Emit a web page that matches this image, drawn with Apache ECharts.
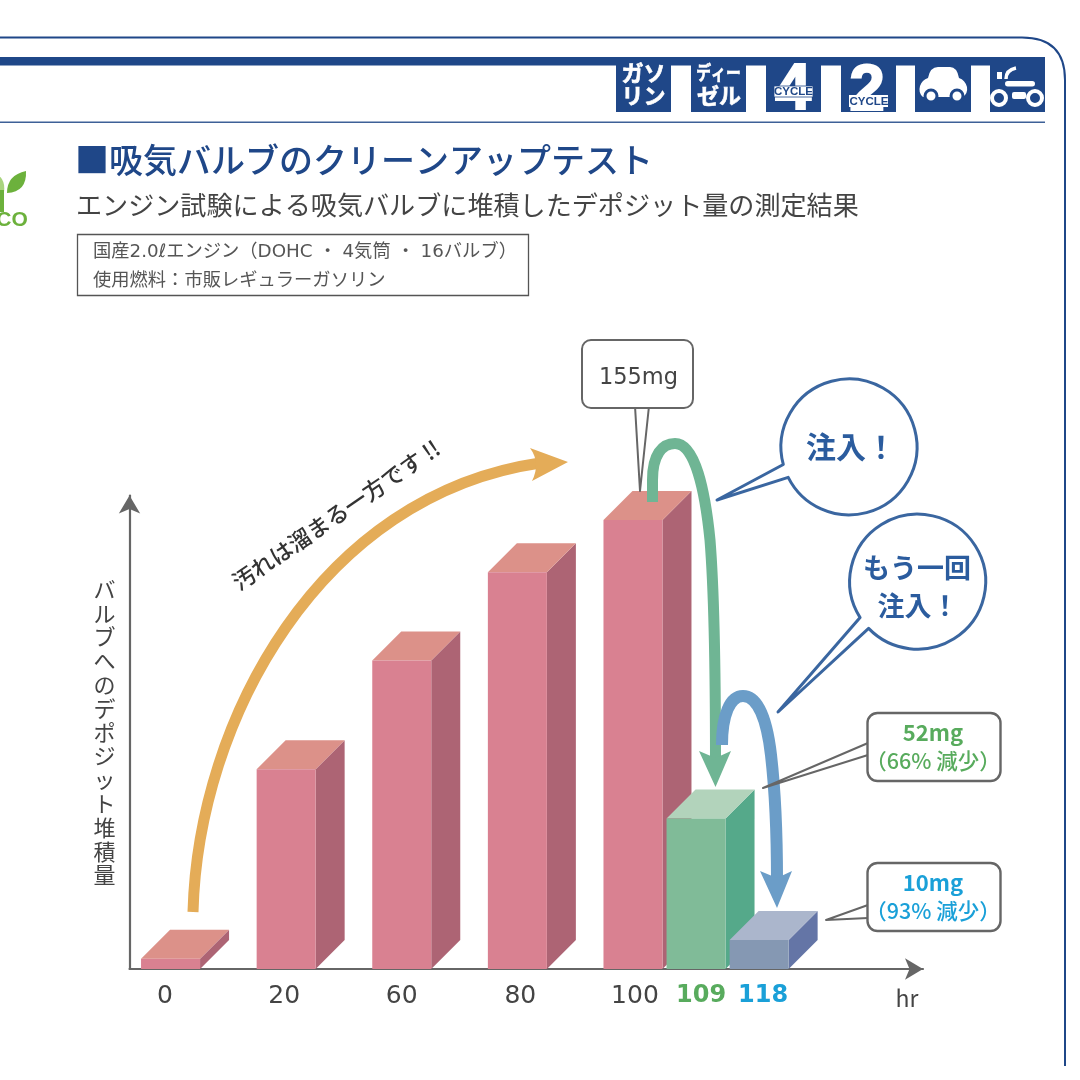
<!DOCTYPE html>
<html><head><meta charset="utf-8">
<style>html,body{margin:0;padding:0;background:#fff}#c{width:1080px;height:1080px}</style>
<script src="https://cdn.jsdelivr.net/npm/echarts@6/dist/echarts.min.js"></script>
</head><body><div id="c"></div>
<script>
// ---- data ----
const hours = ['0','20','60','80','100','109','118'];
const deposit = [3.5, 69, 106.5, 137, 155, 52, 10];       // mg
const barGroup = ['dirty','dirty','dirty','dirty','dirty','once','twice'];
const yAxisTitle = 'バルブへのデポジット堆積量';
const xAxisTitle = 'hr';
const title = '■吸気バルブのクリーンアップテスト';
const subtitle = 'エンジン試験による吸気バルブに堆積したデポジット量の測定結果';
const conditions = ['国産2.0ℓエンジン（DOHC ・ 4気筒 ・ 16バルブ）','使用燃料：市販レギュラーガソリン'];

// ---- uneven slots on the time axis ----
const leadSlots = 8, bigGap = 22, smallGap = 12, totalSlots = 152;
const cats = new Array(totalSlots).fill('');
const slotOf = [];
let s = leadSlots;
hours.forEach((h, i) => { cats[s] = h; slotOf.push(s); s += i < 4 ? bigGap : smallGap; });
const barData = hours.map((h, i) => [slotOf[i], deposit[i], i]);

const palette = {
  dirty: {front:'#d98191', top:'#dc9189', side:'#ad6474'},
  once:  {front:'#80bb98', top:'#b2d3bb', side:'#55a98a'},
  twice: {front:'#8598b3', top:'#abb6cc', side:'#6475a6'}
};
const FONT = '"Noto Sans CJK JP","Noto Sans",sans-serif';
const LATIN = '"DejaVu Sans","Noto Sans CJK JP",sans-serif';
const ARIAL = '"Liberation Sans",sans-serif';
const NAVY = '#1f4788', BUB = '#3a66a0', GREY = '#666666';

function renderBar(params, api){
  const idx = api.value(0), val = api.value(1), c = palette[barGroup[api.value(2)]];
  const top = api.coord([idx, val]), base = api.coord([idx, 0]);
  const w = 59, d = 29, l = top[0] - w/2 - 1, r = l + w, y = top[1], b = base[1];
  return {type:'group', children:[
    {type:'polygon', shape:{points:[[r,y],[r+d,y-d],[r+d,b-d],[r,b]]}, style:{fill:c.side}},
    {type:'polygon', shape:{points:[[l,y],[l+d,y-d],[r+d,y-d],[r,y]]}, style:{fill:c.top}},
    {type:'rect', shape:{x:l,y:y,width:w,height:b-y}, style:{fill:c.front}}
  ]};
}

// decoration helpers
let shapeId = 0;
const P = (d, fill, stroke, lw, z) => {
  const name = 'decoPath' + (shapeId++);
  echarts.graphic.registerShape(name, echarts.graphic.extendPath(d));
  return {type:name, z:z||10, shape:{}, style:{fill:fill||'none', stroke:stroke||'none', lineWidth:lw||0, lineJoin:'round'}, silent:true};
};
const R = (x,y,w,h,fill,stroke,lw,r,z) => ({type:'rect', z:z||10, shape:{x,y,width:w,height:h,r:r||0}, style:{fill:fill||'none',stroke:stroke||'none',lineWidth:lw||0}, silent:true});
const C = (cx,cy,r,fill,stroke,lw,z) => ({type:'circle', z:z||10, shape:{cx,cy,r}, style:{fill:fill||'none',stroke:stroke||'none',lineWidth:lw||0}, silent:true});
const T = (text,x,y,size,fill,opt) => { opt=opt||{}; return {type:'text', z:opt.z||12, x, y, rotation:opt.rot||0, scaleX:opt.sx||1, silent:true,
  style:{text, fill, stroke:opt.st||null, lineWidth:opt.sw||0, font:(opt.w||'400')+' '+size+'px '+(opt.f||FONT), textAlign:opt.a||'center', textVerticalAlign:'middle'}}; };

const deco = [
  // frame
  P('M-5 37.5 L1022 37.5 Q1065 37.5 1065 80 L1065 1066','none',NAVY,2,1),
  R(-5,57,1050,8.5,NAVY,null,0,0,1),
  R(-5,121.5,1050,1.6,'#3d6097',null,0,0,1),
  // icon tiles
  R(616,57,55,55,NAVY), R(691,57,55,55,NAVY), R(766,57,55,55,NAVY), R(841,57,55,55,NAVY), R(915,57,56,55,NAVY), R(990,57,55,55,NAVY),
  T('ガソ',643.5,73,22,'#fff',{w:'700',st:'#fff',sw:0.6}), T('リン',643.5,96,22,'#fff',{w:'700',st:'#fff',sw:0.6}),
  T('ディー',718.5,73,19,'#fff',{w:'700',sx:0.78,st:'#fff',sw:0.6}), T('ゼル',719,96,22,'#fff',{w:'700',st:'#fff',sw:0.6}),
  T('4',793,91,65,'#fff',{w:'700',f:ARIAL,st:'#fff',sw:2}),
  R(774,86,39,11,'#ffffff',NAVY,0.8,0,12),
  T('CYCLE',793.5,92,11.5,NAVY,{w:'700',f:ARIAL,z:13}),
  T('2',867,92,64,'#fff',{w:'700',f:ARIAL,st:'#fff',sw:2}),
  R(849,95,39,12,'#ffffff',null,0,0,12),
  T('CYCLE',869,101.5,11.5,NAVY,{w:'700',f:ARIAL,z:13}),
  P('M923 97 Q918 93 920 86 Q922 80 928 78 Q930 67 938 67 L950 67 Q957 67 959 78 Q965 80 967 87 Q968 93 963 97 Z','#fff',null,0,11),
  C(931,96,6,'#fff',NAVY,3,12), C(957,96,6,'#fff',NAVY,3,12),
  C(999,98,7,NAVY,'#fff',4,12), C(1035,98,7,NAVY,'#fff',4,12),
  R(1012,92,14,7,'#fff',null,0,2,12), R(1005,81,30,5.5,'#fff',null,0,3,12),
  P('M1006 79 Q1006 70 1016 68','none','#fff',3.5,12), R(997,72,5,7,'#fff',null,0,0,12),
  // eco logo
  P('M7 193 Q7 175 26 171 Q27 192 7 193 Z','#6cb13c'),
  P('M4 192 Q6 178 -6 172 L-6 190 Z','#a9d47e'),
  R(0,190,4,22,'#6cb13c'),
  T('CO',12,220,21,'#6cb13c',{w:'700',f:ARIAL}),
  // headings
  T(title,75,160,34,NAVY,{w:'500',a:'left'}),
  T(subtitle,76,205,26.1,'#444444',{a:'left'}),
  R(77.5,234.5,451,61,'#fff','#555',1.3,0,5),
  T(conditions[0],93,252,18.3,'#555555',{a:'left',f:LATIN}),
  T(conditions[1],93,279,18.3,'#555555',{a:'left'}),
  // growth arrow
  P('M193 912 C198 720 320 495 540 463','none','#e4ac58',11),
  P('M568 462 L530 448 Q541 463 532 481 Z','#e4ac58'),
  T('汚れは溜まる一方です !!',336,515,22.5,'#333333',{rot:0.6,w:'500'}),
  // 155mg callout
  P('M635 406 L640 491 L649 406','none',GREY,2),
  R(582,340,111,68,'#fff',GREY,2,9,11),
  T('155mg',638.5,378,22.5,'#444444',{f:LATIN}),
  // green injection arrow
  P('M652.5 502 L652.5 480 C652.5 455 662 443.5 675 443.5 C695 443.5 705 490 710 540 C714 590 715.5 660 715.5 762','none','#6fb594',11),
  P('M715.5 787 L699 751 L715.5 758 L731 751 Z','#6fb594'),
  // blue injection arrow
  P('M722 745 C722 715 730 696 743 696 C758 696 767 720 771 755 C775 790 777 830 777 880','none','#6b9dc8',12,11),
  P('M777 908 L760 871 L777 878 L792 871 Z','#6b9dc8',null,0,11),
  // 52mg callout
  P('M868 743 L763 788 L868 755','none',GREY,2,13),
  R(867.5,713,133,68,'#fff',GREY,2.4,10,13),
  T('52mg',933,733,22,'#58ab5d',{w:'700',z:14}),
  T('（66% 減少）',933,761,21.5,'#58ab5d',{w:'500',z:14}),
  // 10mg callout
  P('M868 905 L826 920 L868 918','none',GREY,2,13),
  R(867.5,863,133,68,'#fff',GREY,2.4,10,13),
  T('10mg',933,883,22,'#1aa0d8',{w:'700',z:14}),
  T('（93% 減少）',933,911,21.5,'#1aa0d8',{w:'500',z:14}),
  // speech bubbles
  P('M783.3 464.5 A68 68 0 1 1 788.2 477.4 L717 500 Z','#fff',BUB,3,13),
  T('注入！',851,447,30,'#2b5c9e',{w:'700',z:15}),
  P('M860.1 617.6 A68 67.5 0 1 1 868.6 628.4 L778 712 Z','#fff',BUB,3,13),
  T('もう一回',917,568,27,'#2b5c9e',{w:'700',z:15}),
  T('注入！',918,606,27,'#2b5c9e',{w:'700',z:15}),
  // x-axis unit
  T(xAxisTitle,907,998,23,'#444444')
];

// small per-label nudges (px) that match where the reference sets its tick labels
const labelNudge = {'0':-6.5,'20':-3,'60':-1,'80':2,'100':1,'109':4,'118':3};
const tickRich = {};
hours.forEach((h, i) => {
  const n = labelNudge[h] * 2, bold = i >= 5;
  tickRich['t' + h] = {
    fontFamily:LATIN, fontSize:bold ? 24 : 25, fontWeight:bold ? 700 : 400,
    color: i === 5 ? '#58ab5d' : i === 6 ? '#1aa0d8' : '#444444',
    padding: n >= 0 ? [0,0,0,n] : [0,-n,0,0]
  };
});

const chart = echarts.init(document.getElementById('c'), null, {renderer:'canvas'});
chart.setOption({
  animation:false,
  backgroundColor:'#ffffff',
  grid:{left:129.5, right:1080-923, top:495.5, bottom:1080-969, containLabel:false},
  xAxis:{
    type:'category', data:cats, boundaryGap:false,
    axisLine:{show:true, symbol:['none','arrow'], symbolSize:[16,18], lineStyle:{color:GREY, width:2.2}},
    axisTick:{show:false},
    axisLabel:{interval:0, margin:15, hideOverlap:false, fontFamily:LATIN, fontSize:25, color:'#444444',
      formatter:v => v === '' ? '' : '{t' + v + '|' + v + '}',
      rich:tickRich},
    splitLine:{show:false}
  },
  yAxis:{
    type:'value', min:0, max:163.5,
    name:yAxisTitle.split('').join('\n'), nameLocation:'middle', nameGap:14, nameRotate:0,
    nameTextStyle:{fontFamily:FONT, fontSize:22, lineHeight:23.8, color:'#444444', padding:[0,0,8,0]},
    axisLine:{show:true, symbol:['none','arrow'], symbolSize:[16,18], lineStyle:{color:GREY, width:2.2}},
    axisTick:{show:false}, axisLabel:{show:false}, splitLine:{show:false}
  },
  series:[{type:'custom', z:2, clip:false, silent:true, renderItem:renderBar, encode:{x:0,y:1}, data:barData}],
  graphic:{elements:deco}
});
</script></body></html>
